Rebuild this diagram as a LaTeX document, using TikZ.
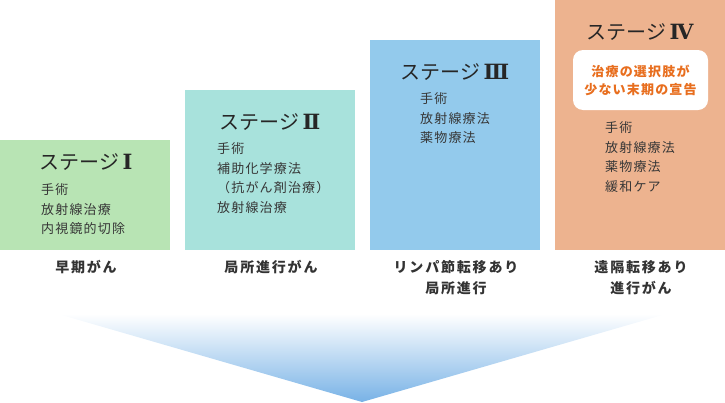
\documentclass[tikz,border=0pt]{standalone}
\usepackage{fontspec}
\usepackage{xcolor}
\usepackage{tikz}
\newfontfamily\cjk{Noto Sans CJK JP}
\newfontfamily\cjkbody[LetterSpace=9]{Noto Sans CJK JP}
\newfontfamily\cjklabel[LetterSpace=13]{Noto Sans CJK JP}
\newfontfamily\numfont{DejaVu Serif}

\definecolor{stagegreen}{RGB}{184,228,180}
\definecolor{stageteal}{RGB}{168,226,220}
\definecolor{stageblue}{RGB}{147,202,236}
\definecolor{stageorange}{RGB}{237,179,143}
\definecolor{noteorange}{RGB}{232,110,30}
\definecolor{bodygray}{RGB}{55,55,55}
\definecolor{arrowblue}{RGB}{120,178,230}

\newcommand{\stagenum}[1]{\,{\numfont\bfseries\fontsize{21pt}{24pt}\selectfont #1}}

\tikzset{
  stagebox/.style={inner sep=0pt, minimum width=170pt, anchor=south west},
  stagetitle/.style={inner sep=0pt, font=\cjk\fontsize{20pt}{24pt}\selectfont, text=black!85},
  stagebody/.style={inner sep=0pt, anchor=north west, align=left, font=\cjkbody\fontsize{13pt}{19.5pt}\selectfont, text=bodygray},
  stagelabel/.style={inner sep=0pt, align=center, font=\cjklabel\bfseries\fontsize{14pt}{21pt}\selectfont, text=black!80}
}

\begin{document}
\begin{tikzpicture}[x=1pt,y=-1pt]
\useasboundingbox (0,0) rectangle (725,402);

\node[stagebox, fill=stagegreen, minimum height=110pt] (box1) at (0,250) {};
\node[stagebox, fill=stageteal, minimum height=160pt] (box2) at (185,250) {};
\node[stagebox, fill=stageblue, minimum height=210pt] (box3) at (370,250) {};
\node[stagebox, fill=stageorange, minimum height=250pt] (box4) at (555,250) {};

\node[stagetitle] (title1) at (86,162) {ステージ\stagenum{Ⅰ}};
\node[stagetitle] (title2) at (270,122) {ステージ\stagenum{Ⅱ}};
\node[stagetitle] (title3) at (455,72) {ステージ\stagenum{Ⅲ}};
\node[stagetitle] (title4) at (640,32) {ステージ\stagenum{Ⅳ}};

\node[fill=white, rounded corners=10pt, minimum width=135pt, minimum height=60pt, align=center,
  font=\cjkbody\bfseries\fontsize{13pt}{18pt}\selectfont, text=noteorange] (note) at (640.5,80)
  {治療の選択肢が\\少ない末期の宣告};

\node[stagebody] (body1) at (41,183.5) {手術\\放射線治療\\内視鏡的切除};
\node[stagebody] (body2) at (217,142.5) {手術\\補助化学療法\\（抗がん剤治療）\\放射線治療};
\node[stagebody] (body3) at (420,92.5) {手術\\放射線療法\\薬物療法};
\node[stagebody] (body4) at (605,121.5) {手術\\放射線療法\\薬物療法\\緩和ケア};

\node[stagelabel] (label1) at (86,267) {早期がん};
\node[stagelabel] (label2) at (271,267) {局所進行がん};
\node[stagelabel] (label3) at (456,277.5) {リンパ節転移あり\\局所進行};
\node[stagelabel] (label4) at (641,277.5) {遠隔転移あり\\進行がん};

\coordinate (arrowleft) at (58,314);
\coordinate (arrowright) at (666,314);
\coordinate (arrowtip) at (362,402);
\shade[top color=white, bottom color=arrowblue] (arrowleft) -- (arrowright) -- (arrowtip) -- cycle;
\end{tikzpicture}
\end{document}
